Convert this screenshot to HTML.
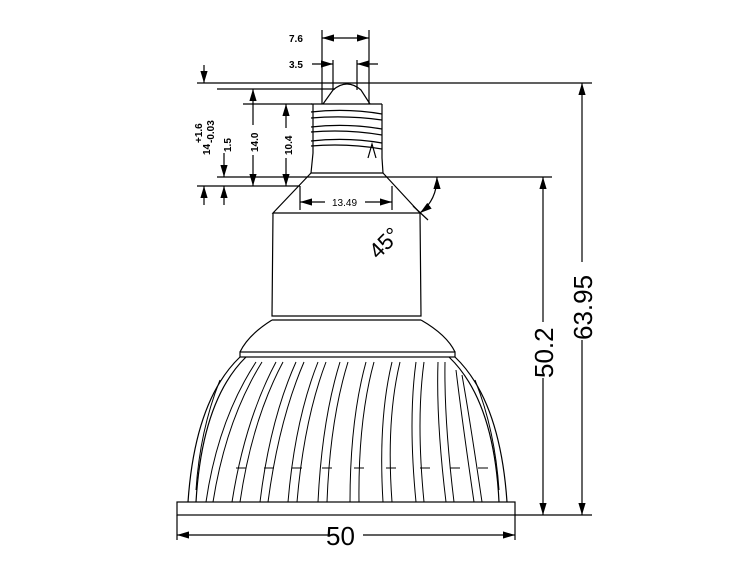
<!DOCTYPE html>
<html><head><style>body{margin:0;background:#fff}svg{display:block}</style></head><body>
<svg width="750" height="562" viewBox="0 0 750 562" xmlns="http://www.w3.org/2000/svg" font-family="Liberation Sans, sans-serif">
<defs><marker id="a" viewBox="0 0 10 6" refX="10" refY="3" markerWidth="10" markerHeight="6" orient="auto-start-reverse"><path d="M0,0L10,3L0,6z" fill="#000"/></marker></defs>
<g stroke="#000" stroke-width="1.2" fill="none">
<!-- extension lines -->
<line x1="197" y1="83" x2="592" y2="83"/>
<line x1="217" y1="89" x2="335" y2="89"/>
<line x1="217" y1="177" x2="552" y2="177"/>
<line x1="197" y1="186" x2="300" y2="186"/>
<line x1="243" y1="104" x2="312" y2="104"/>
<!-- bulb tip & threads -->
<path d="M323,104 L333,90 Q347,78 361,90 L370,104"/>
<path d="M311,104 L382,104 M313,104 L313,153 L311,173 M382,104 L382,158 L383,173"/>
<path d="M311,112 Q347,108 382,114 M311,118 Q347,115 382,120 M311,127 Q347,123 382,129 M311,132 Q347,129 382,135 M311,141 Q347,137 382,143 M311,146 Q347,143 382,149"/>
<path d="M368,158 L372,144 L376,158"/>
<line x1="311" y1="173" x2="383" y2="173"/>
<!-- cone and neck -->
<path d="M311,173 L273,213 L420,213 L383,173"/>
<path d="M273,213 L272,316 L421,316 L420,213"/>
<line x1="272" y1="320" x2="421" y2="320"/>
<path d="M272,320 Q248,335 240,352 M421,320 Q447,335 455,352"/>
<rect x="240" y="352" width="215" height="5"/>
<!-- dome -->
<path d="M240,357 Q195,400 188,502 M455,357 Q500,400 507,502"/>
<path d="M246,357 Q202,400 196,502 M449,357 Q494,400 499,502"/>
<g stroke-width="1">
<path d="M256,362 Q218,420 206,502 M262,362 Q226,420 213,502"/>
<path d="M276,362 Q245,420 232,502 M283,362 Q252,420 240,502"/>
<path d="M296,362 Q270,420 260,502 M304,362 Q279,420 268,502"/>
<path d="M318,362 Q295,420 288,502 M326,362 Q304,420 297,502"/>
<path d="M340,362 Q322,420 318,502 M348,362 Q330,420 327,502"/>
<path d="M366,362 Q350,420 350,502 M374,362 Q358,420 359,502"/>
<path d="M392,362 Q378,420 383,502 M400,362 Q386,420 392,502"/>
<path d="M416,362 Q408,420 416,502 M424,362 Q416,420 424,502"/>
<path d="M438,362 Q436,420 446,502 M445,362 Q444,420 454,502"/>
<path d="M456,370 Q462,420 474,502 M462,375 Q470,420 482,502"/>
<path d="M220,380 Q200,430 196,490 M475,380 Q495,430 499,490"/>
<path d="M236,468 h10 M264,468 h10 M292,468 h10 M322,468 h10 M354,468 h10 M386,468 h10 M420,468 h10 M450,468 h10 M478,468 h10"/>
</g>
<rect x="177" y="502" width="338" height="13"/>
<!-- right dims -->
<line x1="515" y1="515" x2="592" y2="515"/>
<line x1="543" y1="177" x2="543" y2="515" marker-start="url(#a)" marker-end="url(#a)"/>
<line x1="582" y1="83" x2="582" y2="515" marker-start="url(#a)" marker-end="url(#a)"/>
<!-- bottom dim -->
<line x1="177" y1="515" x2="177" y2="540"/>
<line x1="515" y1="515" x2="515" y2="540"/>
<line x1="177" y1="535" x2="515" y2="535" marker-start="url(#a)" marker-end="url(#a)"/>
<!-- top dims -->
<line x1="322" y1="30" x2="322" y2="104"/>
<line x1="369" y1="30" x2="369" y2="104"/>
<line x1="322" y1="38" x2="369" y2="38" marker-start="url(#a)" marker-end="url(#a)"/>
<line x1="333" y1="60" x2="333" y2="90"/>
<line x1="357" y1="60" x2="357" y2="90"/>
<line x1="312" y1="64" x2="333" y2="64" marker-end="url(#a)"/>
<line x1="378" y1="64" x2="357" y2="64" marker-end="url(#a)"/>
<!-- 13.49 -->
<line x1="300" y1="186" x2="300" y2="210"/>
<line x1="392" y1="186" x2="392" y2="210"/>
<line x1="300" y1="202" x2="392" y2="202" marker-start="url(#a)" marker-end="url(#a)"/>
<!-- left dims -->
<line x1="204" y1="65" x2="204" y2="83" marker-end="url(#a)"/>
<line x1="204" y1="205" x2="204" y2="186" marker-end="url(#a)"/>
<line x1="224" y1="205" x2="224" y2="186" marker-end="url(#a)"/>
<line x1="224" y1="153" x2="224" y2="177" marker-end="url(#a)"/>
<line x1="253" y1="89" x2="253" y2="186" marker-start="url(#a)" marker-end="url(#a)"/>
<line x1="286" y1="104" x2="286" y2="186" marker-start="url(#a)" marker-end="url(#a)"/>
<!-- 45 arc -->
<path d="M437,177 Q437,200 420,213" marker-start="url(#a)" marker-end="url(#a)"/>
<line x1="413" y1="206" x2="428" y2="220"/>
</g>
<g fill="#fff"><rect x="246" y="125" width="14" height="30"/><rect x="279" y="128" width="14" height="30"/><rect x="325" y="196" width="40" height="12"/><rect x="333" y="528" width="30" height="16"/><rect x="534" y="322" width="18" height="56"/><rect x="573" y="262" width="18" height="78"/></g>
<g font-size="10" font-weight="bold">
<text x="289" y="42">7.6</text>
<text x="289" y="68">3.5</text>
<text x="332" y="206" font-weight="normal">13.49</text>
<text transform="translate(258,152) rotate(-90)">14.0</text>
<text transform="translate(292,155) rotate(-90)">10.4</text>
<text transform="translate(231,152) rotate(-90)">1.5</text>
<text transform="translate(210,155) rotate(-90)">14</text>
<text transform="translate(202,143) rotate(-90)">+1.6</text>
<text transform="translate(214,143) rotate(-90)">-0.03</text>
</g>
<g font-size="26">
<text x="326" y="545">50</text>
<text transform="translate(553,378) rotate(-90)">50.2</text>
<text transform="translate(592,340) rotate(-90)">63.95</text>
<text transform="translate(378,260) rotate(-45)" font-size="22">45°</text>
</g>
</svg>
</body></html>
